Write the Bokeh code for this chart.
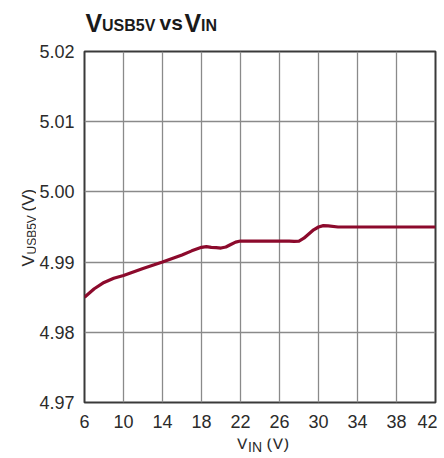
import numpy as np
from bokeh.plotting import figure
from bokeh.layouts import column, row
from bokeh.models import Label, FixedTicker, NumeralTickFormatter, Range1d
from bokeh.embed import file_html
from bokeh.resources import INLINE

# ---- data ----
vin = [6, 7, 8, 9, 10, 12, 14, 16, 17, 18, 18.5, 19, 19.5, 20, 20.5, 21, 21.5, 22, 24, 26,
       27, 27.5, 28, 28.5, 29, 29.5, 30, 30.5, 31, 32, 34, 38, 42]
vusb5v = [4.9850, 4.9862, 4.9871, 4.9877, 4.9881, 4.9891, 4.9900, 4.9910, 4.9916, 4.9921,
          4.9922, 4.9921, 4.99205, 4.9920, 4.99215, 4.9925, 4.99285, 4.9930, 4.9930, 4.9930,
          4.99298, 4.99295, 4.9930, 4.9934, 4.9940, 4.9946, 4.9950, 4.9952, 4.99515, 4.9950,
          4.9950, 4.9950, 4.9950]
x_ticks = [6, 10, 14, 18, 22, 26, 30, 34, 38, 42]
y_ticks = [4.97, 4.98, 4.99, 5.00, 5.01, 5.02]

FONT = "Liberation Sans"
TXT = "#2b2b2b"

# layout geometry (picture pixels)
TOTAL_W = 437
TITLE_H = 40
YLAB_W = 36
MAIN_TOP, FRAME, MAIN_BOT, MAIN_RIGHT = 11, 351, 36, 2
MAIN_LEFT = 84 - YLAB_W
MAIN_H = MAIN_TOP + FRAME + MAIN_BOT
XLAB_H = 18
FRAME_BOTTOM = TITLE_H + MAIN_TOP + FRAME   # picture y of the main frame's bottom edge


def blank(w, h):
    f = figure(width=w, height=h, output_backend="svg", toolbar_location=None,
               x_range=Range1d(0, w), y_range=Range1d(0, h),
               x_axis_type=None, y_axis_type=None, min_border=0,
               min_border_left=0, min_border_right=0, min_border_top=0, min_border_bottom=0)
    f.outline_line_color = None
    f.background_fill_color = "white"
    f.border_fill_color = "white"
    f.title.visible = False
    return f


def lab(f, x0, ybottom, x, y, text, size, bold=False, angle=0.0):
    # x, y in picture coordinates; x0 = picture x of the frame's left, ybottom = picture y of its bottom
    f.add_layout(Label(x=x - x0, y=ybottom - y, x_units="screen", y_units="screen",
                       text=text, text_font=FONT, text_font_size=f"{size}px",
                       text_font_style="bold" if bold else "normal",
                       text_color="#1a1a1a" if bold else TXT,
                       text_baseline="alphabetic", text_align="left", angle=angle))


# ---- main chart ----
p = figure(width=MAIN_LEFT + FRAME + MAIN_RIGHT, height=MAIN_H, output_backend="svg",
           toolbar_location=None, x_range=Range1d(6, 42), y_range=Range1d(4.97, 5.02),
           min_border_left=MAIN_LEFT, min_border_right=MAIN_RIGHT,
           min_border_top=MAIN_TOP, min_border_bottom=MAIN_BOT)
p.frame_width = FRAME
p.frame_height = FRAME
p.title.visible = False

p.line(vin, vusb5v, line_color="#8c0a2c", line_width=3.2, line_join="round")

for ax in (p.xaxis[0], p.yaxis[0]):
    ax.axis_line_color = None
    ax.major_tick_line_color = None
    ax.minor_tick_line_color = None
    ax.major_tick_out = 0
    ax.major_tick_in = 0
    ax.minor_tick_out = 0
    ax.minor_tick_in = 0
    ax.major_label_text_font = FONT
    ax.major_label_text_font_size = "18px"
    ax.major_label_text_color = TXT
p.xaxis.ticker = FixedTicker(ticks=x_ticks)
p.yaxis.ticker = FixedTicker(ticks=y_ticks)
p.yaxis.formatter = NumeralTickFormatter(format="0.00")
p.xaxis.major_label_standoff = 12
p.yaxis.major_label_standoff = 10

p.xgrid.ticker = FixedTicker(ticks=x_ticks)
p.ygrid.ticker = FixedTicker(ticks=y_ticks)
p.grid.grid_line_color = "#8a8a8a"
p.grid.grid_line_width = 1.3
p.outline_line_color = "#3a3a3a"
p.outline_line_width = 2
p.outline_line_alpha = 1
p.background_fill_color = "white"
p.border_fill_color = "white"

# ---- title ----
t = blank(TOTAL_W, TITLE_H)
TB = TITLE_H + 9   # observed frame-bottom reference of the title strip
lab(t, 0, TB, 85, 31, "V", 25, True)
lab(t, 0, TB, 101.5, 33.5, "USB5V", 16, True)
lab(t, 0, TB, 159, 31, "vs", 21, True)
lab(t, 0, TB, 184, 31, "V", 25, True)
lab(t, 0, TB, 200.5, 33.5, "IN", 16, True)

# ---- y axis label (rotated); its frame is aligned with the main frame ----
yl = blank(YLAB_W, MAIN_H)
ang = np.pi / 2
lab(yl, 0, FRAME_BOTTOM, 28.3, 266, "V", 17, angle=ang)
lab(yl, 0, FRAME_BOTTOM, 31.5, 254, "USB5V", 12, angle=ang)
lab(yl, 0, FRAME_BOTTOM, 28.3, 211, "(V)", 17, angle=ang)

# ---- x axis label ----
XB = TITLE_H + MAIN_H + XLAB_H + 8   # observed frame-bottom reference of the strip
xl = blank(TOTAL_W, XLAB_H)
lab(xl, 0, XB, 236, 450.5, "V", 17)
lab(xl, 0, XB, 247.5, 454.5, "IN", 14)
lab(xl, 0, XB, 266, 450.5, "(V)", 17)

layout = column(t, row(yl, p, spacing=0), xl, spacing=0)
open("out.html", "w").write(file_html(layout, INLINE))
